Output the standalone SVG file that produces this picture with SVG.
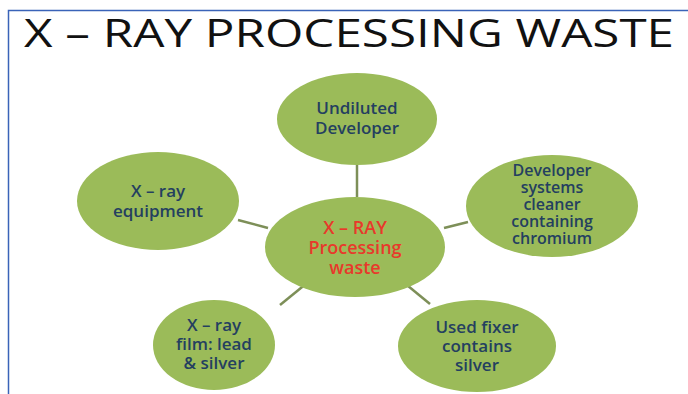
<svg xmlns="http://www.w3.org/2000/svg" width="688" height="394" viewBox="0 0 688 394">
<style>
.n{fill:#9bbb59;}
.t{font-family:"Open Sans","Liberation Sans",sans-serif;font-size:17px;font-weight:600;fill:#243f60;text-anchor:middle;}
.c{fill:#e8392b;font-size:18px;}
.s{font-size:16px;}
.e{stroke:#7d8f58;stroke-width:2.5;fill:none;}
</style>
<rect x="0" y="0" width="688" height="394" fill="#ffffff"/>
<path d="M8.5 394 V10.5 H688" fill="none" stroke="#3a63b8" stroke-width="1.5"/>
<text x="24" y="47" font-family="Open Sans, Liberation Sans, sans-serif" font-size="38" fill="#111111" textLength="650" lengthAdjust="spacingAndGlyphs">X – RAY PROCESSING WASTE</text>
<g id="connectors">
<line class="e" x1="357" y1="165" x2="357" y2="197"/>
<line class="e" x1="444" y1="228" x2="468" y2="222"/>
<line class="e" x1="238" y1="220" x2="268" y2="228"/>
<line class="e" x1="280" y1="305" x2="307" y2="283"/>
<line class="e" x1="402" y1="281" x2="430" y2="304"/>
</g>
<g id="center">
<ellipse class="n" cx="355" cy="247" rx="90" ry="50"/>
<text class="t c" x="355" y="234">X – RAY</text>
<text class="t c" x="355" y="254">Processing</text>
<text class="t c" x="355" y="274">waste</text>
</g>
<g id="undiluted">
<ellipse class="n" cx="357" cy="119" rx="80" ry="46"/>
<text class="t" x="357" y="114">Undiluted</text>
<text class="t" x="357" y="134">Developer</text>
</g>
<g id="cleaner">
<ellipse class="n" cx="552" cy="206" rx="86" ry="51"/>
<text class="t s" x="552" y="176">Developer</text>
<text class="t s" x="552" y="193">systems</text>
<text class="t s" x="552" y="210">cleaner</text>
<text class="t s" x="552" y="227">containing</text>
<text class="t s" x="552" y="244">chromium</text>
</g>
<g id="equipment">
<ellipse class="n" cx="158" cy="201" rx="81" ry="49"/>
<text class="t" x="158" y="197">X – ray</text>
<text class="t" x="158" y="217">equipment</text>
</g>
<g id="film">
<ellipse class="n" cx="214" cy="345" rx="61" ry="45"/>
<text class="t" x="214" y="331">X – ray</text>
<text class="t" x="214" y="350">film: lead</text>
<text class="t" x="214" y="369">&amp; silver</text>
</g>
<g id="fixer">
<ellipse class="n" cx="477" cy="346" rx="79" ry="46"/>
<text class="t" x="477" y="333">Used fixer</text>
<text class="t" x="477" y="352">contains</text>
<text class="t" x="477" y="371">silver</text>
</g>
</svg>
